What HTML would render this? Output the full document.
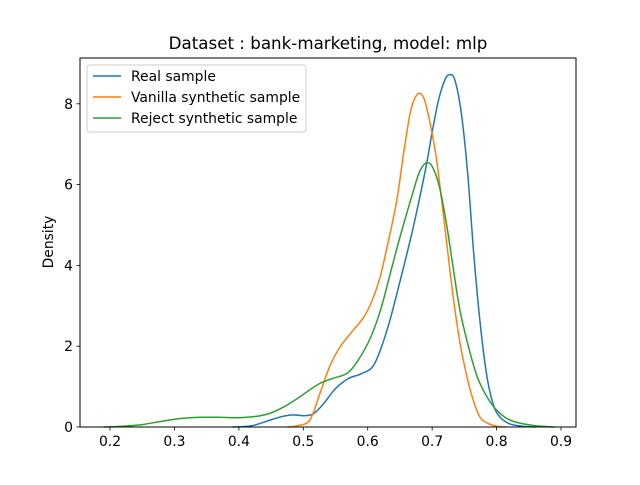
<!DOCTYPE html>
<html><head><meta charset="utf-8"><style>
body{margin:0;background:#fff}
svg text{font-family:"DejaVu Sans","Liberation Sans",sans-serif;fill:#000}
</style></head><body>
<svg width="640" height="480">
<rect width="640" height="480" fill="#fff"/>
<text x="328" y="49" font-size="16.7" text-anchor="middle">Dataset : bank-marketing, model: mlp</text>
<g id="marks"></g>
<g id="xticks"></g>
<g id="yticks"></g>
<text transform="translate(53,242) rotate(-90)" font-size="13.9" text-anchor="middle">Density</text>
<rect x="80" y="58" width="496" height="369" fill="none" stroke="#000" stroke-width="1"/>
<g>
<rect x="87" y="65" width="219" height="67" rx="3" fill="#fff" fill-opacity="0.8" stroke="#ccc"/>
<line x1="93" y1="76" x2="121" y2="76" stroke="#1f77b4" stroke-width="1.5"/>
<text x="131" y="81" font-size="13.9">Real sample</text>
<line x1="93" y1="97" x2="121" y2="97" stroke="#ff7f0e" stroke-width="1.5"/>
<text x="131" y="102" font-size="13.9">Vanilla synthetic sample</text>
<line x1="93" y1="118" x2="121" y2="118" stroke="#2ca02c" stroke-width="1.5"/>
<text x="131" y="123" font-size="13.9">Reject synthetic sample</text>
</g>
</svg>
<script>
const xTicks=[0.2,0.3,0.4,0.5,0.6,0.7,0.8,0.9];
const yTicks=[0,2,4,6,8];
const realX=[0.39,0.42,0.45,0.47,0.485,0.5,0.515,0.53,0.55,0.57,0.59,0.61,0.63,0.65,0.67,0.69,0.70,0.71,0.72,0.727,0.735,0.745,0.755,0.765,0.775,0.785,0.795,0.805,0.82,0.84,0.86];
const realY=[0,0.03,0.18,0.27,0.3,0.28,0.32,0.55,0.95,1.2,1.32,1.55,2.4,3.6,4.9,6.4,7.3,8.1,8.6,8.72,8.6,7.8,6.3,4.2,2.5,1.25,0.55,0.25,0.08,0.02,0];
const vanX=[0.475,0.49,0.51,0.526,0.541,0.557,0.575,0.593,0.606,0.619,0.632,0.645,0.655,0.665,0.672,0.68,0.688,0.697,0.707,0.72,0.732,0.743,0.754,0.764,0.774,0.785,0.8,0.815];
const vanY=[0,0.03,0.17,0.84,1.5,1.98,2.35,2.7,3.1,3.7,4.6,5.6,6.7,7.7,8.1,8.26,8.1,7.5,6.6,4.9,3.3,2.1,1.24,0.65,0.25,0.1,0.02,0];
const rejX=[0.19,0.22,0.25,0.28,0.31,0.34,0.37,0.4,0.43,0.45,0.47,0.495,0.51,0.526,0.545,0.568,0.585,0.604,0.62,0.635,0.65,0.67,0.68,0.69,0.7,0.712,0.723,0.733,0.743,0.757,0.77,0.785,0.8,0.815,0.83,0.86,0.89];
const rejY=[0,0.02,0.06,0.14,0.21,0.24,0.24,0.23,0.27,0.35,0.5,0.75,0.92,1.08,1.2,1.33,1.65,2.2,2.9,3.8,4.7,5.8,6.3,6.53,6.45,5.9,4.95,3.9,2.9,1.95,1.24,0.75,0.42,0.22,0.12,0.03,0];
const NS='http://www.w3.org/2000/svg';
function sx(v){return 110+(v-0.2)*644.3;}
function sy(v){return 427-v*40.4;}
function mk(t,a,p){const e=document.createElementNS(NS,t);for(const k in a)e.setAttribute(k,a[k]);p.appendChild(e);return e;}
const xt=document.getElementById('xticks'),yt=document.getElementById('yticks'),mg=document.getElementById('marks');
xTicks.forEach(v=>{const x=sx(v);
mk('line',{x1:x,y1:427,x2:x,y2:430.5,stroke:'#000','stroke-width':0.8},xt);
const t=mk('text',{x:x,y:446,'font-size':13.9,'text-anchor':'middle'},xt);t.textContent=String(v);

});
yTicks.forEach(v=>{const y=sy(v);
mk('line',{x1:76.5,y1:y,x2:80,y2:y,stroke:'#000','stroke-width':0.8},yt);
const t=mk('text',{x:73,y:y+5,'font-size':13.9,'text-anchor':'end'},yt);t.textContent=String(v);

});
function curve(xs,ys,color,name){
const P=xs.map((v,i)=>[sx(v),sy(ys[i])]);
let d='M'+P[0][0].toFixed(2)+' '+P[0][1].toFixed(2);
for(let i=0;i<P.length-1;i++){
const p0=P[Math.max(0,i-1)],p1=P[i],p2=P[i+1],p3=P[Math.min(P.length-1,i+2)];
const c1=[p1[0]+(p2[0]-p0[0])/6,p1[1]+(p2[1]-p0[1])/6];
const c2=[p2[0]-(p3[0]-p1[0])/6,p2[1]-(p3[1]-p1[1])/6];
d+='C'+c1[0].toFixed(2)+' '+c1[1].toFixed(2)+' '+c2[0].toFixed(2)+' '+c2[1].toFixed(2)+' '+p2[0].toFixed(2)+' '+p2[1].toFixed(2);}
const p=mk('path',{d:d,fill:'none',stroke:color,'stroke-width':1.5,'stroke-linejoin':'round'},mg);

}
curve(realX,realY,'#1f77b4','real-sample-line');
curve(vanX,vanY,'#ff7f0e','vanilla-synthetic-line');
curve(rejX,rejY,'#2ca02c','reject-synthetic-line');
</script>
</body></html>
